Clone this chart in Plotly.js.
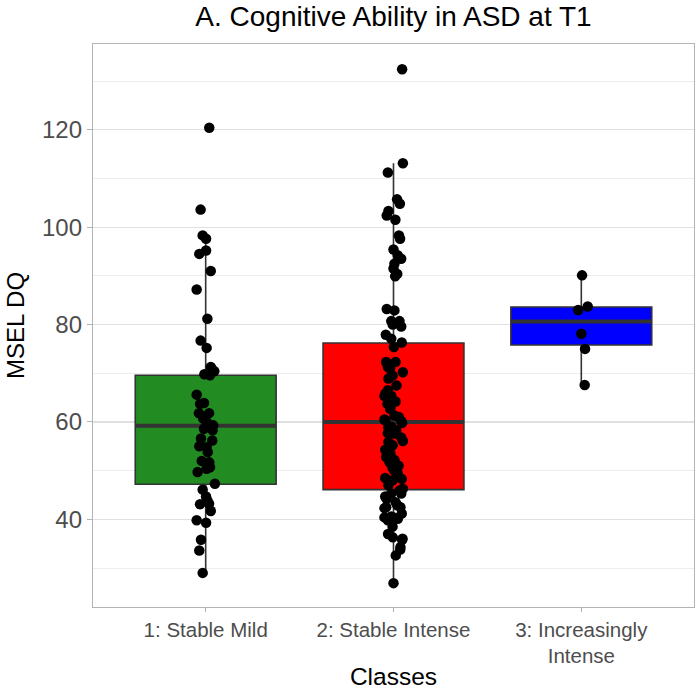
<!DOCTYPE html>
<html>
<head>
<meta charset="utf-8">
<script src="https://cdn.plot.ly/plotly-3.0.1.min.js"></script>
<style>
  html, body { margin: 0; padding: 0; background: #fff; }
  #chart { width: 696px; height: 690px; }
</style>
</head>
<body>
<div id="chart"></div>
<script>
// ---- Categories ----
var categories = ["1: Stable Mild", "2: Stable Intense", "3: Increasingly<br>Intense"];
var boxColors = ["#228B22", "#FF0000", "#0000FF"];

// ---- Box statistics ----
var q1Vals = [47.2, 46.1, 75.8];
var medianVals = [59.2, 60.0, 80.6];
var q3Vals = [69.6, 76.2, 83.6];
var lowerWhisker = [29.0, 26.9, 67.6];
var upperWhisker = [98.3, 113.1, 90.1];

// ---- Individual observations (MSEL DQ) ----
var class1Values = [120.4, 103.6, 98.3, 97.6, 95.2, 94.5, 91.0, 87.2, 81.2, 76.7,
  75.2, 71.3, 70.8, 70.4, 69.8, 69.6, 65.6, 63.9, 63.7, 61.8,
  61.8, 60.7, 60.0, 59.3, 58.6, 58.3, 56.6, 56.2, 55.0, 54.8,
  53.8, 52.0, 51.7, 50.7, 50.4, 49.7, 47.3, 46.1, 44.7, 43.9,
  43.2, 43.1, 41.7, 39.8, 39.3, 35.8, 33.6, 29.0];
var class1Jitter = [0.019, -0.027, -0.016, 0.002, 0.002, -0.034, 0.027, -0.048, 0.009, -0.027,
  0.005, 0.027, 0.034, 0.046, -0.007, 0.023, -0.048, -0.009, -0.030, -0.036,
  0.018, -0.013, 0.005, 0.040, -0.009, 0.037, -0.025, 0.035, -0.034, 0.005,
  0.011, -0.021, 0.019, 0.023, 0.005, -0.043, 0.049, -0.016, 0.002, 0.009,
  0.018, -0.030, 0.027, -0.048, 0.002, -0.025, -0.034, -0.016];

var class2Values = [132.4, 113.1, 111.2, 105.7, 104.8, 103.3, 102.4, 101.5, 98.3, 97.6,
  95.4, 94.2, 93.5, 92.5, 91.5, 90.4, 89.9, 83.2, 82.9, 80.7,
  80.7, 80.0, 79.6, 77.9, 77.1, 76.3, 75.4, 72.3, 72.3, 71.3,
  70.9, 70.2, 69.5, 68.9, 67.5, 66.5, 65.8, 65.4, 65.3, 64.8,
  63.7, 64.2, 63.0, 62.7, 61.3, 61.0, 60.5, 60.3, 60.2, 59.8,
  59.0, 58.8, 58.3, 57.9, 57.7, 57.6, 56.8, 56.1, 55.9, 55.2,
  54.3, 53.5, 52.8, 52.2, 51.7, 51.0, 50.6, 50.0, 49.4, 48.5,
  48.3, 48.0, 47.0, 46.3, 45.9, 45.3, 45.3, 44.7, 44.2, 43.5,
  42.9, 42.5, 42.5, 42.3, 41.2, 40.6, 40.4, 40.3, 40.1, 39.8,
  38.5, 37.0, 36.3, 36.0, 35.8, 34.3, 33.8, 32.6, 26.9];
var class2Jitter = [0.046, 0.050, -0.030, 0.019, 0.034, -0.027, -0.036, 0.010, 0.029, 0.035,
  0.000, 0.023, 0.041, 0.005, 0.000, 0.020, 0.009, -0.036, 0.005, -0.012,
  0.032, -0.004, 0.041, -0.041, -0.012, 0.044, 0.002, -0.039, 0.011, -0.030,
  -0.018, 0.050, -0.005, -0.027, 0.016, -0.030, -0.044, -0.012, -0.048, -0.012,
  -0.032, 0.011, -0.016, -0.018, 0.005, 0.028, -0.048, -0.043, 0.041, 0.046,
  -0.011, -0.027, 0.014, -0.021, -0.030, 0.005, 0.041, 0.050, -0.027, -0.005,
  -0.044, -0.016, -0.039, 0.005, -0.021, 0.027, -0.005, 0.005, 0.023, -0.044,
  0.044, -0.004, -0.027, 0.050, 0.032, -0.012, 0.041, -0.044, -0.037, 0.011,
  0.020, -0.039, 0.037, -0.048, 0.044, -0.012, -0.048, 0.005, 0.023, -0.030,
  -0.005, -0.029, -0.004, 0.048, 0.046, 0.037, 0.036, 0.012, 0.000];

var class3Values = [90.1, 83.7, 83.0, 78.1, 75.0, 67.6];
var class3Jitter = [0.004, 0.034, -0.017, 0.000, 0.020, 0.018];

var groupValues = [class1Values, class2Values, class3Values];
var groupJitter = [class1Jitter, class2Jitter, class3Jitter];

// ---- Traces ----
var traces = [];
var boxWidth = 0.75;
var positions = [1, 2, 3];

positions.forEach(function (pos, i) {
  traces.push({
    type: "box",
    x: [pos],
    q1: [q1Vals[i]],
    median: [medianVals[i]],
    q3: [q3Vals[i]],
    lowerfence: [lowerWhisker[i]],
    upperfence: [upperWhisker[i]],
    width: boxWidth,
    whiskerwidth: 0,
    boxpoints: false,
    fillcolor: boxColors[i],
    line: { color: "#333333", width: 1.6 },
    showlegend: false,
    hoverinfo: "skip"
  });
});

// thicker median lines (ggplot style)
positions.forEach(function (pos, i) {
  traces.push({
    type: "scatter",
    mode: "lines",
    x: [pos - boxWidth / 2, pos + boxWidth / 2],
    y: [medianVals[i], medianVals[i]],
    line: { color: "#333333", width: 4 },
    showlegend: false,
    hoverinfo: "skip"
  });
});

// jittered points
positions.forEach(function (pos, i) {
  traces.push({
    type: "scatter",
    mode: "markers",
    x: groupJitter[i].map(function (j) { return pos + j; }),
    y: groupValues[i],
    marker: { color: "#000000", size: 10.5 },
    showlegend: false,
    hoverinfo: "skip"
  });
});

var font = "Liberation Sans, Arial, Helvetica, sans-serif";

var layout = {
  width: 696,
  height: 690,
  margin: { l: 93, r: 2, t: 44, b: 83 },
  paper_bgcolor: "#ffffff",
  plot_bgcolor: "#ffffff",
  font: { family: font, color: "#4D4D4D" },
  title: {
    text: "A. Cognitive Ability in ASD at T1",
    font: { family: font, size: 28, color: "#000000" },
    x: 0.5, xref: "paper", xanchor: "center",
    y: 0.976, yref: "container", yanchor: "middle"
  },
  xaxis: {
    range: [0.4, 3.6],
    tickmode: "array",
    tickvals: positions,
    ticktext: categories,
    showgrid: false,
    zeroline: false,
    showline: true,
    mirror: true,
    linecolor: "#B3B3B3",
    linewidth: 1.2,
    ticks: "outside",
    ticklen: 4,
    tickcolor: "#B3B3B3",
    tickfont: { family: font, size: 20.5, color: "#4D4D4D" },
    title: { text: "Classes", font: { family: font, size: 24.5, color: "#000000" }, standoff: 10 }
  },
  yaxis: {
    range: [22.0, 137.6],
    tick0: 0,
    dtick: 20,
    showgrid: true,
    gridcolor: "#E0E0E0",
    gridwidth: 1.2,
    minor: { tick0: 0, dtick: 10, showgrid: true, gridcolor: "#EDEDED", gridwidth: 1 },
    zeroline: false,
    showline: true,
    mirror: true,
    linecolor: "#B3B3B3",
    linewidth: 1.2,
    ticks: "outside",
    ticklen: 5,
    tickcolor: "#B3B3B3",
    tickfont: { family: font, size: 24, color: "#4D4D4D" },
    title: { text: "MSEL DQ", font: { family: font, size: 24, color: "#000000" }, standoff: 10 }
  },
  showlegend: false
};

Plotly.newPlot("chart", traces, layout, { displayModeBar: false, staticPlot: true });
</script>
</body>
</html>
